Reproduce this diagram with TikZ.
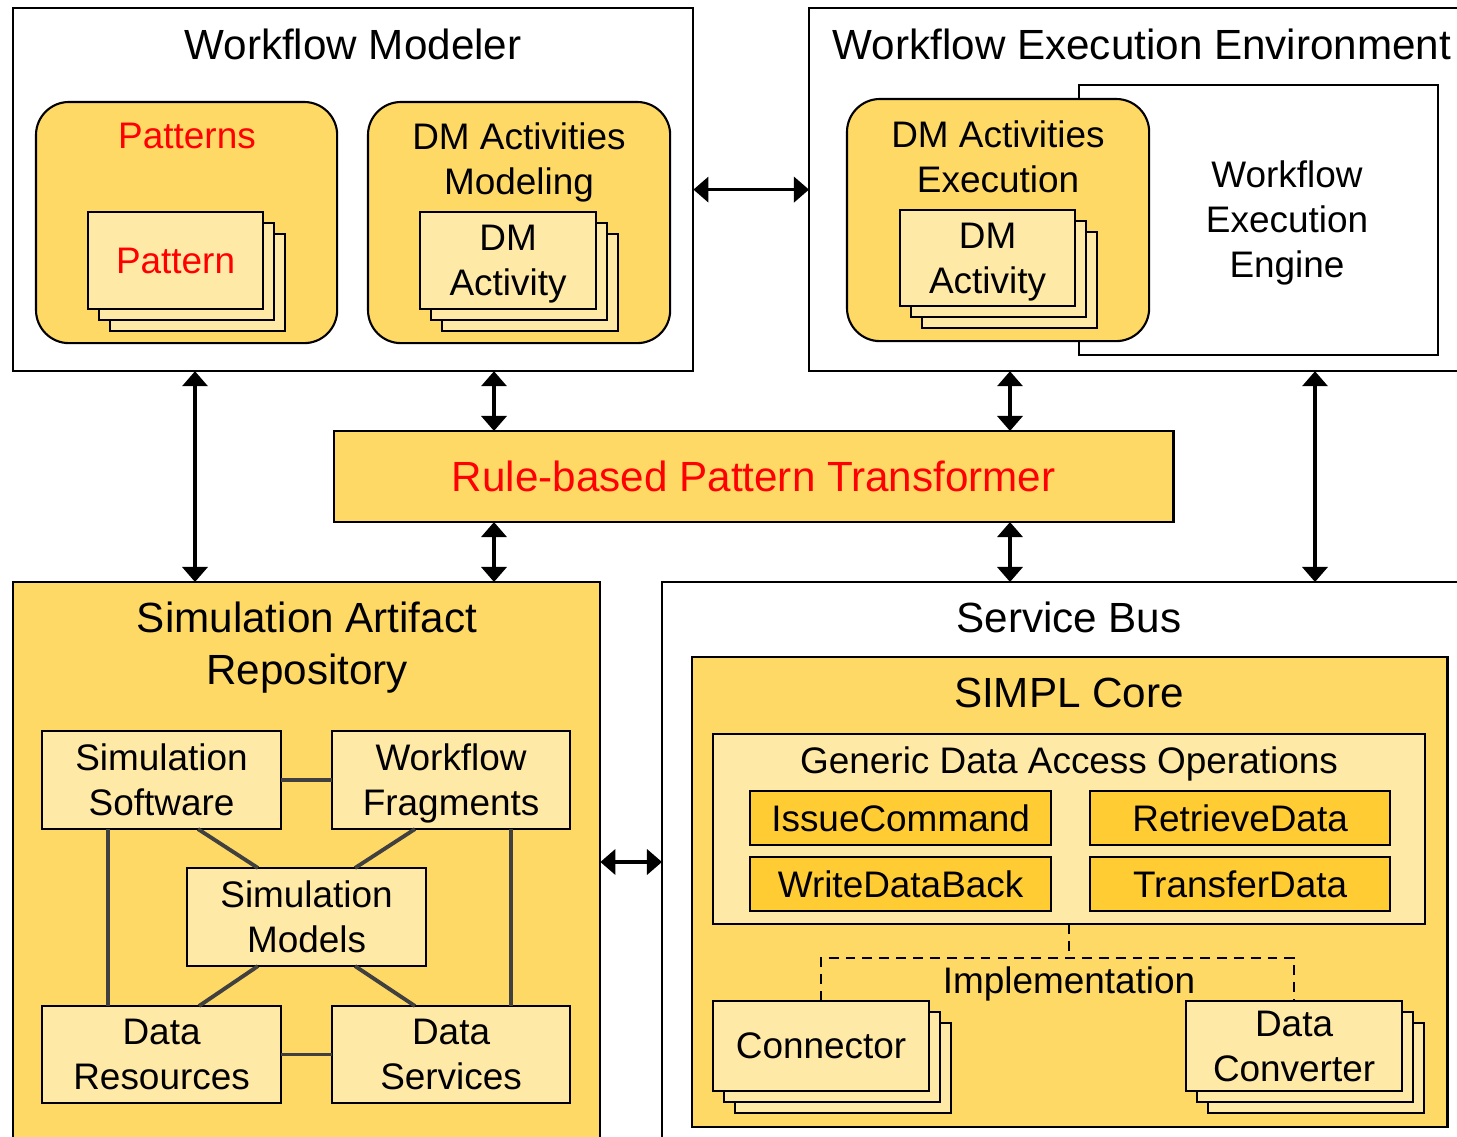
\documentclass[tikz,border=0pt]{standalone}
\usepackage{fontspec}
\setmainfont{Liberation Sans}
\usepackage{tikz}
\usetikzlibrary{arrows.meta}
\usetikzlibrary{shadows}

\definecolor{boxorange}{HTML}{FFD966}
\definecolor{boxlight}{HTML}{FFE9A6}
\definecolor{opgold}{HTML}{FFCC33}

\begin{document}
\begin{tikzpicture}[x=0.01cm,y=-0.01cm,
    every node/.style={inner sep=0pt,outer sep=0pt},
    bigfont/.style={font=\fontsize{12}{14.8}\selectfont},
    smallfont/.style={font=\fontsize{10.5}{12.8}\selectfont},
    plainbox/.style={draw,line width=0.6pt,anchor=north west},
    roundbox/.style={plainbox,fill=boxorange,rounded corners=0.33cm},
    itembox/.style={plainbox,fill=boxlight,smallfont,align=center,text depth=0pt},
    stackbox/.style={itembox,
      copy shadow={shadow xshift=0.22cm,shadow yshift=-0.22cm,fill=boxlight,draw=black,line width=0.6pt},
      copy shadow={shadow xshift=0.11cm,shadow yshift=-0.11cm,fill=boxlight,draw=black,line width=0.6pt}},
    opbox/.style={itembox,fill=opgold},
    biarrow/.style={line width=1pt,{Triangle[width=0.25cm,length=0.15cm]}-{Triangle[width=0.25cm,length=0.15cm]}},
    link/.style={line width=1.1pt,draw=black!75},
    dashlink/.style={line width=0.6pt,dash pattern=on 2.8pt off 2pt}]
    \useasboundingbox (0,0) rectangle (1457,1137);
    \clip (0,0) rectangle (1457,1137);
    %
    % modeler
    \node[plainbox,minimum width=6.80cm,minimum height=3.63cm] (wm) at (13,8) {};
    \node[bigfont,anchor=base] (wmtitle) at (353,60) {Workflow Modeler};
    \node[roundbox,minimum width=3.01cm,minimum height=2.41cm] (pats) at (36,102) {};
    \node[smallfont,anchor=base,text=red] (patstitle) at (187,149) {Patterns};
    \node[stackbox,minimum width=1.75cm,minimum height=0.97cm,text=red] (pat) at (88,212) {Pattern};
    \node[roundbox,minimum width=3.02cm,minimum height=2.41cm] (dmmod) at (368,102) {};
    \node[smallfont,align=center] (dmmodtitle) at (519,162) {DM Activities\\Modeling};
    \node[stackbox,minimum width=1.76cm,minimum height=0.97cm] (dmact) at (420,212) {DM\\Activity};
    %
    % execution environment
    \node[plainbox,minimum width=6.66cm,minimum height=3.63cm] (wee) at (809,8) {};
    \node[bigfont,anchor=base] (weetitle) at (1142,60) {Workflow Execution Environment};
    \node[plainbox,fill=white,minimum width=3.59cm,minimum height=2.70cm] (engine) at (1079,85) {};
    \node[smallfont,align=center] (enginetext) at (1287,223) {Workflow\\Execution\\Engine};
    \node[roundbox,minimum width=3.02cm,minimum height=2.42cm] (dmexec) at (847,99) {};
    \node[smallfont,align=center] (dmexectitle) at (998,157) {DM Activities\\Execution};
    \node[stackbox,minimum width=1.75cm,minimum height=0.96cm] (dmexecact) at (900,210) {DM\\Activity};
    %
    \node[plainbox,fill=boxorange,minimum width=8.39cm,minimum height=0.91cm,bigfont,text=red] (rpt) at (334,431) {Rule-based Pattern Transformer};
    %
    % repository
    \node[plainbox,fill=boxorange,minimum width=5.87cm,minimum height=5.80cm] (sar) at (13,582) {};
    \node[bigfont,align=center] (sartitle) at (307,648) {Simulation Artifact\\Repository};
    \node[itembox,minimum width=2.39cm,minimum height=0.98cm] (simsw) at (42,731) {Simulation\\Software};
    \node[itembox,minimum width=2.38cm,minimum height=0.98cm] (wffrag) at (332,731) {Workflow\\Fragments};
    \node[itembox,minimum width=2.39cm,minimum height=0.98cm] (simmod) at (187,868) {Simulation\\Models};
    \node[itembox,minimum width=2.39cm,minimum height=0.97cm] (datares) at (42,1006) {Data\\Resources};
    \node[itembox,minimum width=2.38cm,minimum height=0.97cm] (datasrv) at (332,1006) {Data\\Services};
    \draw[link] (simsw) -- (wffrag);
    \draw[link] (datares) -- (datasrv);
    \draw[link] (simsw.south -| 108,0) -- (datares.north -| 108,0);
    \draw[link] (wffrag.south -| 511,0) -- (datasrv.north -| 511,0);
    \draw[link] (simsw.south -| 198,0) -- (simmod.north -| 258,0);
    \draw[link] (wffrag.south -| 415,0) -- (simmod.north -| 355,0);
    \draw[link] (simmod.south -| 258,0) -- (datares.north -| 199,0);
    \draw[link] (simmod.south -| 355,0) -- (datasrv.north -| 415,0);
    %
    % service bus
    \node[plainbox,minimum width=8.14cm,minimum height=5.80cm] (sb) at (662,582) {};
    \node[bigfont,anchor=base] (sbtitle) at (1069,633) {Service Bus};
    \node[plainbox,fill=boxorange,minimum width=7.55cm,minimum height=4.70cm] (core) at (692,657) {};
    \node[bigfont,anchor=base] (coretitle) at (1069,708) {SIMPL Core};
    \node[plainbox,fill=boxlight,minimum width=7.12cm,minimum height=1.90cm] (gdao) at (713,734) {};
    \node[smallfont,anchor=base] (gdaotitle) at (1069,774) {Generic Data Access Operations};
    \node[opbox,minimum width=3.01cm,minimum height=0.54cm] (issue) at (750,791) {IssueCommand};
    \node[opbox,minimum width=3.00cm,minimum height=0.54cm] (retrieve) at (1090,791) {RetrieveData};
    \node[opbox,minimum width=3.01cm,minimum height=0.54cm] (writeback) at (750,857) {WriteDataBack};
    \node[opbox,minimum width=3.00cm,minimum height=0.54cm] (transfer) at (1090,857) {TransferData};
    \node[stackbox,minimum width=2.16cm,minimum height=0.90cm] (conn) at (713,1001) {Connector};
    \node[stackbox,minimum width=2.16cm,minimum height=0.90cm] (conv) at (1186,1001) {Data\\Converter};
    \coordinate (split) at (gdao.south |- 0,958);
    \draw[dashlink] (gdao.south) -- (split);
    \draw[dashlink] (conn.north) |- (split) -| (conv.north);
    \node[smallfont,anchor=base] (impl) at (1069,994) {Implementation};
    %
    % arrows
    \draw[biarrow] (wm.east) -- (wee.west);
    \draw[biarrow] (wm.south -| 195,0) -- (sar.north -| 195,0);
    \draw[biarrow] (wm.south -| 494,0) -- (rpt.north -| 494,0);
    \draw[biarrow] (rpt.south -| 494,0) -- (sar.north -| 494,0);
    \draw[biarrow] (wee.south -| 1010,0) -- (rpt.north -| 1010,0);
    \draw[biarrow] (rpt.south -| 1010,0) -- (sb.north -| 1010,0);
    \draw[biarrow] (wee.south -| 1315,0) -- (sb.north -| 1315,0);
    \draw[biarrow] (sar.east |- 0,862) -- (sb.west |- 0,862);
\end{tikzpicture}
\end{document}
